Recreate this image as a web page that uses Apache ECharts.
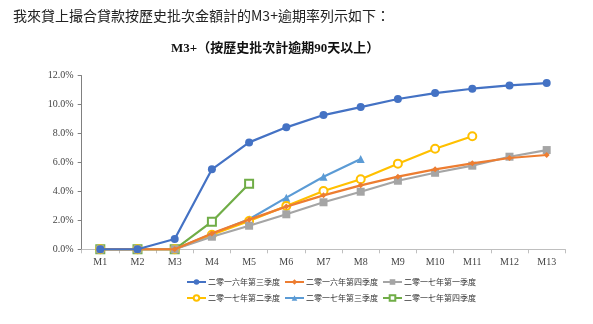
<!DOCTYPE html>
<html><head><meta charset="utf-8">
<script src="https://cdn.jsdelivr.net/npm/echarts@6/dist/echarts.min.js"></script>
<style>html,body{margin:0;padding:0;background:#fff}#c{width:593px;height:324px}</style>
</head><body><div id="c"></div>
<script>
const categories = ['M1','M2','M3','M4','M5','M6','M7','M8','M9','M10','M11','M12','M13'];
const seriesNames = ['二零一六年第三季度','二零一六年第四季度','二零一七年第一季度','二零一七年第二季度','二零一七年第三季度','二零一七年第四季度'];
const q3_2016 = [0, 0, 0.71, 5.53, 7.39, 8.43, 9.28, 9.83, 10.39, 10.80, 11.10, 11.33, 11.49];
const q4_2016 = [0, 0, 0, 1.10, 2.05, 2.95, 3.73, 4.42, 5.02, 5.53, 5.94, 6.31, 6.52];
const q1_2017 = [0, 0, 0, 0.87, 1.63, 2.42, 3.25, 3.98, 4.74, 5.29, 5.78, 6.40, 6.86];
const q2_2017 = [0, 0, 0, 1.00, 1.95, 3.00, 4.03, 4.84, 5.92, 6.95, 7.81];
const q3_2017 = [0, 0, 0, 1.06, 2.08, 3.57, 5.02, 6.24];
const q4_2017 = [0, 0, 0, 1.91, 4.53];
const yTicks = [0, 2, 4, 6, 8, 10, 12];

const colors = ['#4472C4','#ED7D31','#A5A5A5','#FFC000','#5B9BD5','#70AD47'];
const symbols = ['circle','diamond','rect','emptyCircle','triangle','emptyRect'];
const symbolSizes = [8,6,8,8,8,8];
const data = [q3_2016,q4_2016,q1_2017,q2_2017,q3_2017,q4_2017];
const serif = '"Liberation Serif","Noto Sans CJK TC",serif';

const chart = echarts.init(document.getElementById('c'));
chart.setOption({
  animation:false,
  title:[
    {text:'我來貸上撮合貸款按歷史批次金額計的M3+逾期率列示如下：', left:8, top:4,
     textStyle:{fontFamily:'"Noto Sans CJK TC","Liberation Serif",serif', fontSize:14, fontWeight:'normal', color:'#222'}},
    {text:'M3+（按歷史批次計逾期90天以上）', left:166, top:37,
     textStyle:{fontFamily:'"Liberation Serif","Noto Sans CJK TC",serif', fontSize:13, fontWeight:'bold', color:'#111'}}
  ],
  grid:{left:81.7, right:27.7, top:75.7, bottom:74.7, containLabel:false},
  legend:{
    data:seriesNames, left:186, top:276, width:300, padding:0,
    itemWidth:19, itemHeight:7, itemGap:4,
    textStyle:{fontFamily:'"Noto Sans CJK TC",serif', fontSize:8, lineHeight:12, color:'#333', padding:[0,0,0,-3]}
  },
  xAxis:{
    type:'category', data:categories, boundaryGap:true,
    axisLine:{lineStyle:{color:'#bfbfbf'}},
    axisTick:{show:true, length:4, lineStyle:{color:'#bfbfbf'}},
    axisLabel:{fontFamily:serif, fontSize:10, color:'#444', margin:8}
  },
  yAxis:{
    type:'value', min:0, max:12, interval:2,
    axisLine:{show:true, lineStyle:{color:'#808080'}},
    axisTick:{show:true, length:4, inside:false, lineStyle:{color:'#808080'}},
    splitLine:{show:false},
    axisLabel:{fontFamily:serif, fontSize:10, color:'#444', margin:8,
      formatter:v=> yTicks.indexOf(v)>=0 ? v.toFixed(1)+'%' : ''}
  },
  series: seriesNames.map((n,i)=>({
    name:n, type:'line', data:data[i], color:colors[i],
    symbol:symbols[i], symbolSize:symbolSizes[i],
    lineStyle:{width:2.2, color:colors[i]},
    itemStyle:{color:colors[i], borderColor:colors[i], borderWidth: (symbols[i].startsWith('empty')?1.5:0)},
    z: 10-i
  }))
});
</script></body></html>
